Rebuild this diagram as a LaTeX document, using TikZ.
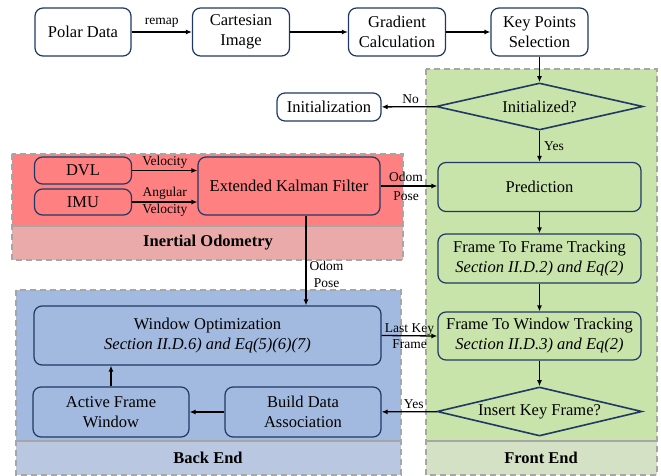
\documentclass[tikz,border=0pt]{standalone}
\usepackage{fontspec}
\setmainfont{Liberation Serif}
\usetikzlibrary{arrows.meta,shapes.geometric}
\definecolor{navy}{RGB}{32,56,100}
\definecolor{redreg}{RGB}{255,128,128}
\definecolor{redband}{RGB}{234,170,170}
\definecolor{bluereg}{RGB}{162,185,224}
\definecolor{blueband}{RGB}{186,199,224}
\definecolor{greenreg}{RGB}{200,228,170}
\definecolor{greenband}{RGB}{213,225,196}
\definecolor{regborder}{RGB}{166,166,166}
\tikzset{
  box/.style={draw=navy, line width=1.2pt, rounded corners=8pt, fill=white, align=center, inner sep=0pt, font=\fontsize{16.5}{20}\selectfont},
  dia/.style={diamond, aspect=5, draw=navy, line width=1.6pt, inner sep=0pt, font=\fontsize{16.5}{20}\selectfont},
  arr/.style={-{Latex[length=6pt,width=5pt]}, line width=1.3pt},
  lab/.style={font=\fontsize{13.5}{17}\selectfont, inner sep=0pt, align=center},
  regionborder/.style={draw=regborder, dash pattern=on 6pt off 4pt, line width=1.5pt},
  bandtitle/.style={font=\fontsize{16.5}{20}\selectfont\bfseries}
}
\begin{document}
\begin{tikzpicture}[x=1pt,y=-1pt]
\useasboundingbox[fill=white] (0,0) rectangle (661,476);
% regions
\fill[redreg] (12,154) rectangle (403,226);
\fill[redband] (12,226) rectangle (403,260);
\draw[regborder, line width=1.2pt] (12,226) -- (403,226);
\draw[regionborder] (12,154) rectangle (403,260);
\fill[bluereg] (16,290) rectangle (401,441);
\fill[blueband] (16,441) rectangle (401,475);
\draw[regborder, line width=1.2pt] (16,441) -- (401,441);
\draw[regionborder] (16,290) rectangle (401,475);
\fill[greenreg] (426,69) rectangle (657,441);
\fill[greenband] (426,441) rectangle (657,475);
\draw[regborder, line width=1.2pt] (426,441) -- (657,441);
\draw[regionborder] (426,69) rectangle (657,475);
\node[bandtitle] (tio) at (208,243) {Inertial Odometry};
\node[bandtitle] (tbe) at (208,458) {Back End};
\node[bandtitle] (tfe) at (541,458) {Front End};
% top row
\node[box, minimum width=96pt, minimum height=48pt] (polar) at (83,32) {Polar Data};
\node[box, minimum width=97pt, minimum height=48pt] (cart) at (241,32) {Cartesian\\Image};
\node[box, minimum width=97pt, minimum height=48pt] (grad) at (397,32) {Gradient\\Calculation};
\node[box, minimum width=97pt, minimum height=48pt] (key) at (539.5,32) {Key Points\\Selection};
% front end
\node[dia, minimum width=207pt, minimum height=47pt] (init) at (539.5,106.5) {Initialized?};
\node[box, minimum width=104pt, minimum height=28pt] (initz) at (329,107) {Initialization};
\node[box, fill=greenreg, minimum width=203pt, minimum height=49pt] (pred) at (539.5,187) {Prediction};
\node[box, fill=greenreg, minimum width=203pt, minimum height=49pt] (ftf) at (539.5,258.5) {Frame To Frame Tracking\\\textit{Section II.D.2) and Eq(2)}};
\node[box, fill=greenreg, minimum width=203pt, minimum height=48pt] (ftw) at (539.5,336) {Frame To Window Tracking\\\textit{Section II.D.3) and Eq(2)}};
\node[dia, minimum width=205pt, minimum height=49pt] (ins) at (539.5,411.5) {Insert Key Frame?};
% inertial odometry
\node[box, fill=redreg, minimum width=97pt, minimum height=27pt] (dvl) at (83,170.5) {DVL};
\node[box, fill=redreg, minimum width=97pt, minimum height=26pt] (imu) at (83,202) {IMU};
\node[box, fill=redreg, minimum width=182pt, minimum height=58pt] (ekf) at (289,186) {Extended Kalman Filter};
% back end
\node[box, fill=bluereg, minimum width=347pt, minimum height=59pt] (wopt) at (207.5,335.5) {Window Optimization\\\textit{Section II.D.6) and Eq(5)(6)(7)}};
\node[box, fill=bluereg, minimum width=156pt, minimum height=50pt] (afw) at (111,412) {Active Frame\\Window};
\node[box, fill=bluereg, minimum width=156pt, minimum height=50pt] (bda) at (303,412) {Build Data\\Association};
% connectors
\draw[arr] (polar) -- node[lab, above=4pt] {remap} (cart);
\draw[arr] (cart) -- (grad);
\draw[arr] (grad) -- (key);
\draw[arr] (key) -- (init);
\draw[arr] (init) -- node[lab, above=3pt, pos=0.47] {No} (initz);
\draw[arr] (init) -- node[lab, right=4pt] {Yes} (pred);
\draw[arr] (pred) -- (ftf);
\draw[arr] (ftf) -- (ftw);
\draw[arr] (ftw) -- (ins);
\draw[arr] (ins) -- node[lab, above=2pt, pos=0.42] {Yes} (bda);
\draw[arr] (bda) -- (afw);
\draw[arr] (afw.north) -- (afw.north |- wopt.south);
\draw[arr] (wopt.east) -- node[lab, align=center] {Last Key\\[-1pt]Frame} (ftw.west);
\draw[arr] (dvl.east) -- node[lab, above=1.5pt] {Velocity} (dvl.east -| ekf.west);
\draw[arr] (imu.east) -- node[lab] {Angular\\Velocity} (imu.east -| ekf.west);
\draw[arr] (ekf.east) -- node[lab, xshift=-3pt] {Odom\\[2pt]Pose} (ekf.east -| pred.west);
\draw[arr] ([xshift=17pt]ekf.south) -- node[lab, right=3pt, pos=0.65] {Odom\\Pose} ([xshift=17pt]ekf.south |- wopt.north);
\end{tikzpicture}
\end{document}
